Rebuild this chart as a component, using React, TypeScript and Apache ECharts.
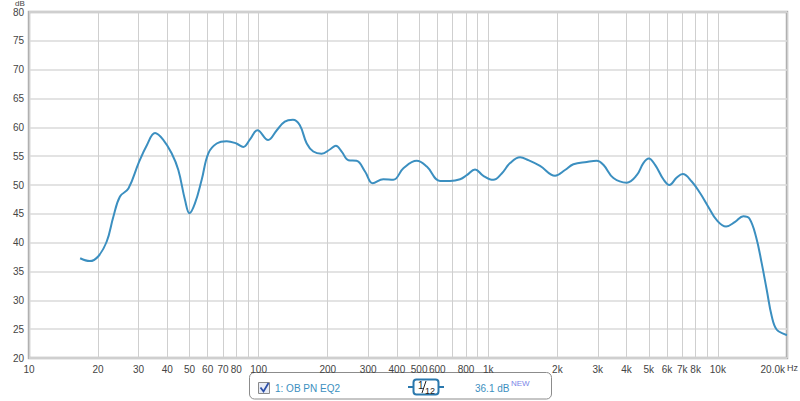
import React, { useEffect, useRef } from "react";
import * as echarts from "echarts";

const freqs = [
  16.7, 18.4, 20, 21.8, 23.3, 24.9, 27.1, 30, 32.6, 35.4, 38.5, 41.8, 44.7, 47.8, 50, 52.8, 56.5, 60.4,
  65.7, 72.6, 80, 85.8, 91.7, 98.8, 110, 120, 130, 141, 151, 162, 173, 188, 205, 217, 230, 246, 267,
  291, 314, 349, 386, 427, 488, 540, 617, 682, 754, 806, 876, 952, 1052, 1145, 1245, 1376, 1495, 1681,
  1954, 2160, 2348, 2686, 2969, 3172, 3508, 4010, 4433, 4737, 5000, 5328, 5789, 6150, 6622, 7031, 7693,
  8363, 9091, 9890, 10856, 11881, 12912, 13716, 14670, 15525, 16327, 17172, 18049, 19612, 20000,
];
const levels = [
  37.3, 36.8, 37.6, 40.2, 44.5, 48.0, 49.4, 53.8, 56.9, 59.0, 57.8, 55.5, 52.6, 47.4, 45.1, 46.8, 50.9, 55.5,
  57.2, 57.6, 57.2, 56.6, 57.9, 59.5, 57.8, 59.5, 61.0, 61.3, 60.4, 57.2, 55.8, 55.4, 56.2, 56.8, 55.8, 54.3, 54.2,
  52.3, 50.3, 51.0, 50.9, 52.9, 54.2, 53.2, 50.7, 50.7, 51.0, 51.7, 52.7, 51.6, 50.9, 52.0, 53.8, 54.8, 54.3, 53.3,
  51.6, 52.6, 53.6, 54.0, 54.2, 53.5, 51.2, 50.4, 51.7, 53.8, 54.6, 53.5, 51.0, 50.0, 51.3, 51.9, 50.6,
  48.6, 46.2, 43.9, 42.8, 43.6, 44.6, 44.2, 41.0, 36.4, 31.8, 27.2, 24.9, 24.1, 24.0,
];

const gridFreqs = [
  10, 20, 30, 40, 50, 60, 70, 80, 90, 100, 200, 300, 400, 500, 600, 700, 800, 900, 1000,
  2000, 3000, 4000, 5000, 6000, 7000, 8000, 9000, 10000, 20000,
];
const labelFreqs = [
  10, 20, 30, 40, 50, 60, 70, 80, 100, 200, 300, 400, 500, 600, 800, 1000,
  2000, 3000, 4000, 5000, 6000, 7000, 8000, 10000, 20000,
];

const legendName = "1: OB PN EQ2";
const legendLevel = "36.1 dB";

const fmtFreq = (v: number) => {
  const r = Math.round(v);
  if (r >= 20000) return "{m|20.0k}";
  if (r >= 1000) return r / 1000 + "k";
  return String(r);
};

const FONT = 'Arial, "Liberation Sans", sans-serif';
const BLUE = "#3b8fc0";

export default function App() {
  const ref = useRef<HTMLDivElement>(null);
  useEffect(() => {
    if (!ref.current) return;
    const chart = echarts.init(ref.current, null, { renderer: "svg" });
    chart.setOption({
      animation: false,
      backgroundColor: "#ffffff",
      grid: {
        left: 29,
        right: 13,
        top: 12,
        bottom: 43,
        show: true,
        borderColor: "#b0b0b0",
        borderWidth: 2.5,
        backgroundColor: "transparent",
      },
      xAxis: {
        type: "log",
        logBase: 10,
        min: 10,
        max: 20000,
        axisLine: { show: false },
        axisTick: { show: false, customValues: gridFreqs },
        splitLine: { show: true, lineStyle: { color: "#cfcfcf", width: 1 } },
        minorSplitLine: { show: false },
        axisLabel: {
          customValues: labelFreqs,
          formatter: (v: number) => fmtFreq(v),
          color: "#444",
          fontSize: 10,
          fontFamily: FONT,
          margin: 6,
          alignMaxLabel: "right",
          rich: {
            m: { color: "#444", fontSize: 10, fontFamily: FONT, padding: [0, 2, 0, 0] },
          },
        },
      },
      yAxis: {
        type: "value",
        min: 20,
        max: 80,
        interval: 5,
        axisLine: { show: false },
        axisTick: { show: false },
        splitLine: { show: true, lineStyle: { color: "#dadada", width: 1.5 } },
        axisLabel: { color: "#444", fontSize: 10, fontFamily: FONT, margin: 5 },
      },
      series: [
        {
          type: "line",
          data: freqs.map((f, i) => [f, levels[i]]),
          showSymbol: false,
          smooth: 0.4,
          lineStyle: { color: BLUE, width: 2 },
          itemStyle: { color: BLUE },
        },
      ],
      graphic: [
        {
          type: "text",
          x: 15,
          y: 0,
          style: { text: "dB", fontSize: 8, lineHeight: 7, fill: "#444", fontFamily: FONT },
        },
        { type: "text", x: 787, y: 363, style: { text: "Hz", fontSize: 9, fill: "#444", fontFamily: FONT } },
        {
          type: "rect",
          shape: { x: 249.5, y: 372.5, width: 302, height: 26.5, r: 5 },
          style: { fill: "#fff", stroke: "#8c8c8c", lineWidth: 1 },
        },
        {
          type: "rect",
          shape: { x: 258.5, y: 382.5, width: 11, height: 11 },
          style: { fill: "#e8ecf6", stroke: "#8a8a8a", lineWidth: 1 },
        },
        {
          type: "polyline",
          shape: { points: [[260.5, 387.5], [263.5, 391.5], [268.5, 383]] },
          style: { stroke: "#2c4fa8", lineWidth: 1.8, fill: "none" },
        },
        {
          type: "text",
          x: 275,
          y: 383,
          style: { text: legendName, fontSize: 10, fill: BLUE, fontFamily: FONT },
        },
        { type: "line", shape: { x1: 408, y1: 387, x2: 414, y2: 387 }, style: { stroke: "#2a78ad", lineWidth: 2 } },
        { type: "line", shape: { x1: 438, y1: 387, x2: 444, y2: 387 }, style: { stroke: "#2a78ad", lineWidth: 2 } },
        {
          type: "rect",
          shape: { x: 413.5, y: 379.5, width: 25, height: 15, r: 3 },
          style: { fill: "#fff", stroke: "#2a78ad", lineWidth: 2 },
        },
        { type: "text", x: 418, y: 380, style: { text: "1", fontSize: 10, fill: "#222", fontFamily: FONT } },
        { type: "line", shape: { x1: 422, y1: 393, x2: 426, y2: 381 }, style: { stroke: "#222", lineWidth: 1 } },
        { type: "text", x: 425, y: 386, style: { text: "12", fontSize: 9, fill: "#222", fontFamily: FONT } },
        {
          type: "text",
          x: 475,
          y: 383,
          style: { text: legendLevel, fontSize: 10, fill: BLUE, fontFamily: FONT },
        },
        { type: "text", x: 511, y: 379, style: { text: "NEW", fontSize: 8, fill: "#7a86e8", fontFamily: FONT } },
      ],
    });
    return () => chart.dispose();
  }, []);
  return (
    <div
      ref={ref}
      style={{ position: "fixed", left: 0, top: 0, width: 800, height: 401, background: "#fff" }}
    />
  );
}
